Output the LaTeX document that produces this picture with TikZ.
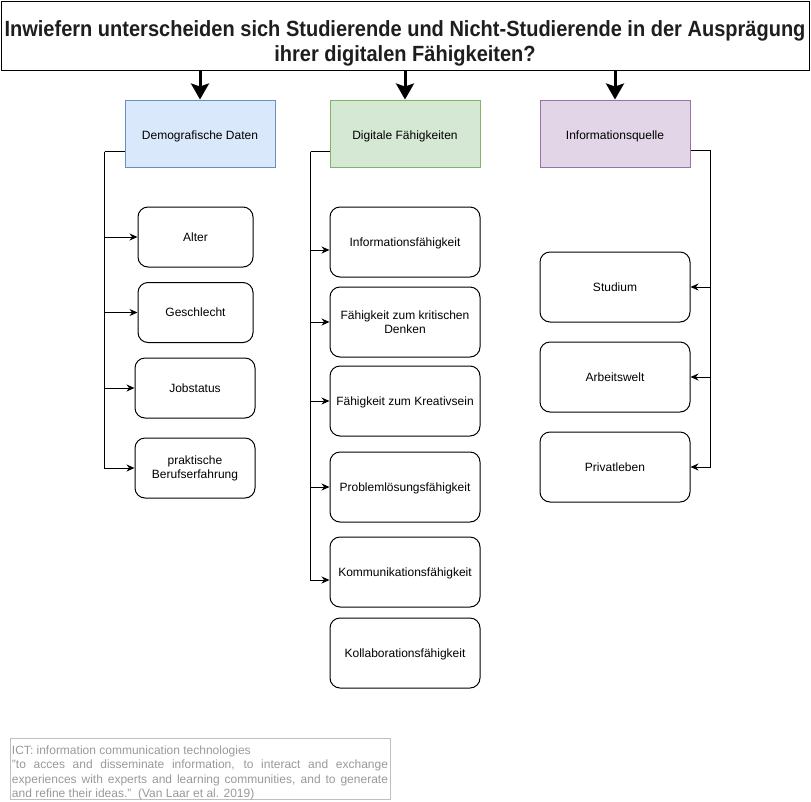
\documentclass[tikz,border=0pt]{standalone}
\usepackage{fontspec}
\setmainfont{Liberation Sans}
\usepackage{xcolor}
\definecolor{demofill}{HTML}{DAE8FC}
\definecolor{demoline}{HTML}{6C8EBF}
\definecolor{digifill}{HTML}{D5E8D4}
\definecolor{digiline}{HTML}{82B366}
\definecolor{quellfill}{HTML}{E1D5E7}
\definecolor{quellline}{HTML}{9673A6}
\definecolor{notegray}{HTML}{999999}
\definecolor{titlegray}{HTML}{1E1E1E}
\usepackage{tikz}
\usetikzlibrary{arrows.meta}
\tikzstyle{head} = [draw, line width=1pt, minimum width=150pt,
  minimum height=67pt, inner sep=2pt, text height=12pt, text depth=1pt,
  font=\fontsize{12}{14}\selectfont]
\tikzstyle{item} = [draw, line width=1pt, rounded corners=10pt,
  align=center, inner sep=2pt, text height=10pt, text depth=1.4pt,
  font=\fontsize{12}{14}\selectfont]

\begin{document}
\begin{tikzpicture}[x=1pt, y=-1pt]
\tikzstyle{conn} = [line width=1pt, -{Stealth[length=8pt, width=7pt]}]
\tikzstyle{bigarrow} = [line width=3pt, -{Stealth[length=16pt, width=18pt, inset=3pt]}]
\tikzstyle{zweizeilig} = [text height={}, text depth={}]
  \useasboundingbox (0,0) rectangle (811,801);
  % question
  \node[draw, line width=1pt, minimum width=808pt, minimum height=69pt,
    inner sep=0pt] (frage) at (405,35.5) {};
  \node[text=titlegray, inner sep=0pt, yshift=-8.5pt,
    font=\fontsize{22}{25}\selectfont\bfseries] (fragetext) at (frage.center)
    {\scalebox{0.91}[1]{\begin{tabular}{@{}c@{}}
     Inwiefern unterscheiden sich Studierende und Nicht-Studierende in der Ausprägung\\
     ihrer digitalen Fähigkeiten?\end{tabular}}};
  % categories
  \node[head, fill=demofill, draw=demoline] (demo) at (200,133.5) {Demografische Daten};
  \node[head, fill=digifill, draw=digiline] (digi) at (405,133.5) {Digitale Fähigkeiten};
  \node[head, fill=quellfill, draw=quellline] (quelle) at (615,133.5) {Informationsquelle};
  \draw[bigarrow] (frage.south -| demo.north) -- (demo.north);
  \draw[bigarrow] (frage.south -| digi.north) -- (digi.north);
  \draw[bigarrow] (frage.south -| quelle.north) -- (quelle.north);
  % demografische daten
  \node[item, minimum width=115pt, minimum height=60pt] (alter) at (195.5,237) {Alter};
  \node[item, minimum width=115pt, minimum height=60pt] (geschlecht) at (195.5,312.5) {Geschlecht};
  \node[item, minimum width=120pt, minimum height=60pt] (job) at (195,388) {Jobstatus};
  \node[item, zweizeilig, minimum width=120pt, minimum height=60pt] (beruf) at (195,468)
    {praktische\\Berufserfahrung};
  \draw ([yshift=16pt]demo.south west) -- ++(-20,0) coordinate (demobus);
  \foreach \n in {alter, geschlecht, job, beruf}
    \draw[conn] (demobus) |- (\n.west);
  % digitale faehigkeiten
  \node[item, minimum width=150pt, minimum height=70pt] (info) at (405,242) {Informationsfähigkeit};
  \node[item, zweizeilig, minimum width=150pt, minimum height=70pt] (kritik) at (405,322)
    {Fähigkeit zum kritischen\\Denken};
  \node[item, minimum width=150pt, minimum height=70pt] (kreativ) at (405,401) {Fähigkeit zum Kreativsein};
  \node[item, minimum width=150pt, minimum height=70pt] (problem) at (405,487) {Problemlösungsfähigkeit};
  \node[item, minimum width=150pt, minimum height=70pt] (komm) at (405,572) {Kommunikationsfähigkeit};
  \node[item, minimum width=150pt, minimum height=70pt] (kollab) at (405,653) {Kollaborationsfähigkeit};
  \draw ([yshift=16pt]digi.south west) -- ++(-19,0) coordinate (digibus);
  \draw[conn] (digibus) |- ([yshift=-8pt]info.west);
  \foreach \n in {kritik, kreativ, problem}
    \draw[conn] (digibus) |- (\n.west);
  \draw[conn] (digibus) |- ([yshift=-8pt]komm.west);
  % informationsquelle
  \node[item, minimum width=150pt, minimum height=70pt] (studium) at (615,287) {Studium};
  \node[item, minimum width=150pt, minimum height=70pt] (arbeit) at (615,377) {Arbeitswelt};
  \node[item, minimum width=150pt, minimum height=70pt] (privat) at (615,467) {Privatleben};
  \draw ([yshift=17pt]quelle.south east) -- ++(20,0) coordinate (quellbus);
  \foreach \n in {studium, arbeit, privat}
    \draw[conn] (quellbus) |- (\n.east);
  % note
  \draw[lightgray, line width=1pt] (10,738) rectangle (390,799);
  \node[text=notegray, text width=376pt, align=justify, inner sep=0pt,
    font=\fontsize{12}{14.3}\selectfont] (notiz) at (200,773)
    {ICT: information communication technologies\\
     "to acces and disseminate information, to interact and exchange\linebreak
     experiences with experts and learning communities, and to generate\linebreak
     and refine their ideas."~~(Van Laar et al. 2019)};
\end{tikzpicture}
\end{document}
